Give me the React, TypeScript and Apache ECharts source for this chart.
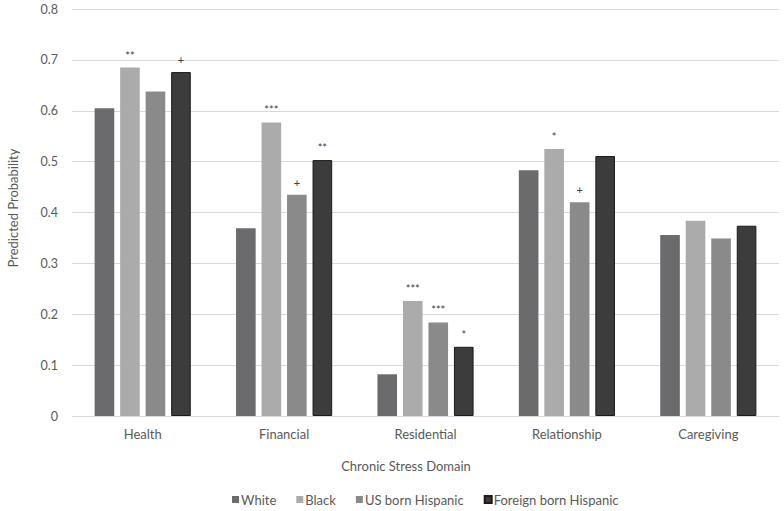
import React, { useEffect, useRef } from "react";
import * as echarts from "echarts";

const categories = ["Health", "Financial", "Residential", "Relationship", "Caregiving"];
const yTicks = [0, 0.1, 0.2, 0.3, 0.4, 0.5, 0.6, 0.7, 0.8];

const white = [0.605, 0.369, 0.082, 0.483, 0.356];
const black = [0.685, 0.577, 0.226, 0.525, 0.384];
const usBorn = [0.638, 0.435, 0.184, 0.42, 0.349];
const foreignBorn = [0.676, 0.503, 0.136, 0.511, 0.374];

const whiteSig = ["", "", "", "", ""];
const blackSig = ["**", "***", "***", "*", ""];
const usBornSig = ["", "+", "***", "+", ""];
const foreignSig = ["+", "**", "*", "", ""];

const FONT = "Lato, 'Open Sans', sans-serif";

export default function App() {
  const ref = useRef<HTMLDivElement>(null);
  useEffect(() => {
    if (!ref.current) return;
    const chart = echarts.init(ref.current, undefined, { renderer: "svg" });
    const mk = (
      name: string,
      data: number[],
      sig: string[],
      color: string,
      border?: string
    ) => ({
      name,
      type: "bar",
      data,
      barGap: "30%",
      barCategoryGap: "32%",
      itemStyle: border
        ? { color, borderColor: border, borderWidth: 1 }
        : { color },
      label: {
        show: true,
        position: "top",
        distance: 7,
        color: "#404040",
        fontSize: 11,
        fontFamily: FONT,
        formatter: (p: any) => sig[p.dataIndex] || "",
      },
    });
    chart.setOption({
      animation: false,
      textStyle: { fontFamily: FONT },
      grid: { left: 72, right: 5, top: 9, bottom: 95, containLabel: false },
      xAxis: {
        type: "category",
        data: categories,
        axisLine: { lineStyle: { color: "#d9d9d9", width: 1 } },
        axisTick: { show: false },
        axisLabel: { color: "#595959", fontSize: 13, margin: 11, fontFamily: FONT },
      },
      yAxis: {
        type: "value",
        min: yTicks[0],
        max: yTicks[yTicks.length - 1],
        interval: 0.1,
        axisLine: { show: false },
        axisTick: { show: false },
        splitLine: { lineStyle: { color: "#d9d9d9", width: 1 } },
        axisLabel: {
          color: "#595959",
          fontSize: 12.5,
          margin: 14,
          fontFamily: FONT,
          formatter: (v: number) => (Math.round(v * 10) / 10).toString(),
        },
      },
      legend: {
        top: 493,
        left: 232,
        padding: 0,
        icon: "rect",
        itemWidth: 7,
        itemHeight: 7,
        itemGap: 20,
        textStyle: { color: "#595959", fontSize: 13, fontFamily: FONT, padding: [0, 0, 0, -3] },
        data: ["White", "Black", "US born Hispanic", "Foreign born Hispanic"],
      },
      graphic: [
        {
          type: "text",
          x: 406,
          y: 466,
          style: {
            text: "Chronic Stress Domain",
            fill: "#595959",
            fontSize: 13,
            fontFamily: FONT,
            align: "center",
            verticalAlign: "middle",
          },
        },
        {
          type: "text",
          x: 13,
          y: 208,
          rotation: Math.PI / 2,
          style: {
            text: "Predicted Probability",
            fill: "#595959",
            fontSize: 13,
            fontFamily: FONT,
            align: "center",
            verticalAlign: "middle",
          },
        },
      ],
      series: [
        mk("White", white, whiteSig, "#6b6b6d"),
        mk("Black", black, blackSig, "#ababab"),
        mk("US born Hispanic", usBorn, usBornSig, "#8a8a8a"),
        mk("Foreign born Hispanic", foreignBorn, foreignSig, "#3c3c3c", "#1a1a1a"),
      ],
    });
    return () => chart.dispose();
  }, []);
  return <div ref={ref} style={{ width: 784, height: 511, position: "absolute", left: 0, top: 0 }} />;
}
